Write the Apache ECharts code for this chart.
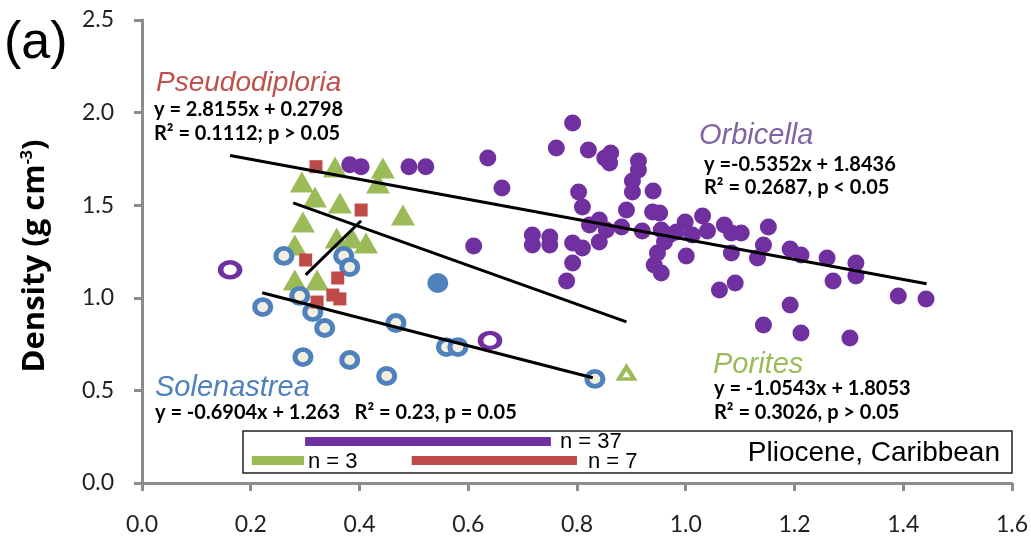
<!DOCTYPE html>
<html>
<head>
<meta charset="utf-8">
<script src="https://cdn.jsdelivr.net/npm/echarts@6.0.0/dist/echarts.min.js"></script>
<style>
html,body{margin:0;padding:0;background:#fff;}
#chart{width:1031px;height:538px;}
</style>
</head>
<body>
<div id="chart"></div>
<script>
// 数据：每个属一个数组 [x, density]
var orbicella = [
	[0.382,1.719],[0.403,1.708],[0.491,1.708],[0.522,1.708],[0.636,1.755],[0.662,1.593],
	[0.610,1.280],[0.718,1.339],[0.718,1.285],[0.750,1.328],[0.750,1.285],[0.762,1.809],
	[0.792,1.944],[0.821,1.798],[0.851,1.755],[0.862,1.782],[0.860,1.728],[0.913,1.739],
	[0.913,1.690],[0.902,1.631],[0.902,1.571],[0.940,1.577],[0.803,1.571],[0.810,1.490],
	[0.891,1.474],[0.939,1.463],[0.952,1.458],[0.841,1.420],[0.823,1.393],[0.854,1.366],
	[0.841,1.301],[0.882,1.382],[0.920,1.361],[0.955,1.366],[0.970,1.339],[0.983,1.355],
	[0.961,1.301],[0.948,1.242],[0.942,1.177],[0.955,1.134],[1.001,1.226],[0.999,1.409],
	[1.031,1.442],[1.040,1.361],[1.012,1.339],[0.792,1.296],[0.810,1.269],[0.792,1.188],
	[0.781,1.091],[1.071,1.393],[1.084,1.350],[1.102,1.350],[1.084,1.242],[1.152,1.382],
	[1.143,1.285],[1.132,1.215],[1.192,1.264],[1.212,1.231],[1.260,1.215],[1.313,1.188],
	[1.313,1.118],[1.271,1.091],[1.091,1.080],[1.062,1.042],[1.391,1.010],[1.442,0.994],
	[1.192,0.961],[1.143,0.853],[1.212,0.810],[1.302,0.783]
];
var orbicellaOpen = [[0.162,1.151],[0.640,0.770]];
var porites = [
	[0.294,1.625],[0.355,1.706],[0.443,1.701],[0.434,1.620],[0.318,1.544],[0.364,1.512],
	[0.296,1.409],[0.480,1.447],[0.281,1.285],[0.358,1.323],[0.386,1.323],[0.412,1.296],
	[0.281,1.096],[0.322,1.096]
];
var poritesOpen = [[0.891,0.594]];
var pseudodiploria = [
	[0.320,1.708],[0.403,1.474],[0.301,1.204],[0.360,1.107],[0.351,1.015],[0.364,0.994],[0.322,0.977]
];
var solenastrea = [
	[0.261,1.226],[0.371,1.226],[0.382,1.166],[0.290,1.010],[0.222,0.950],[0.314,0.923],
	[0.336,0.837],[0.467,0.864],[0.296,0.680],[0.382,0.664],[0.450,0.578],[0.560,0.734],
	[0.581,0.734],[0.833,0.562]
];
var solenastreaFilled = [[0.544,1.080]];

// 趋势线端点
var orbLine = [[0.162,1.768],[1.443,1.076]];
var porLine = [[0.278,1.513],[0.891,0.870]];
var solLine = [[0.221,1.027],[0.829,0.568]];
var pseLine = [[0.301,1.124],[0.403,1.416]];

// 框里的范围条 [x起, x止, y]
var rangePurple = [0.300, 0.752, 0.224];
var rangeGreen = [0.202, 0.298, 0.124];
var rangeRed = [0.496, 0.800, 0.124];

var PURPLE = '#7030A0', GREEN = '#9BBB59', BLUE = '#4F81BD', RED = '#BE4B48';

function trend(data) {
	return {
		type: 'line', data: data, symbol: 'none', z: 6, silent: true,
		lineStyle: {color: '#000', width: 3}
	};
}
function bar(r, color) {
	return {coords: [[r[0], r[2]], [r[1], r[2]]], lineStyle: {color: color, width: 9, opacity: 1}};
}
function label(text, x, y, size, color, italic, bold) {
	return {
		type: 'text', x: x, y: y, z: 10,
		style: {
			text: text, fill: color, fontSize: size,
			fontFamily: italic ? 'Liberation Sans' : 'Lato',
			fontStyle: italic ? 'italic' : 'normal',
			fontWeight: bold ? 'bold' : 'normal',
			align: 'left', verticalAlign: 'middle', textAlign: 'left', textVerticalAlign: 'middle'
		}
	};
}

var myChart = echarts.init(document.getElementById('chart'));

var option = {
	animation: false,
	grid: {left: 142, right: 18, top: 20, bottom: 55},
	xAxis: {
		type: 'value', min: 0, max: 1.6, interval: 0.2,
		axisLine: {lineStyle: {color: '#8c8c8c', width: 3}},
		axisTick: {length: 8, lineStyle: {color: '#8c8c8c', width: 3}},
		axisLabel: {
			margin: 30, fontSize: 23, fontFamily: 'Lato', color: '#222',
			formatter: function (v) { return v.toFixed(1); }
		},
		splitLine: {show: false}
	},
	yAxis: {
		type: 'value', min: 0, max: 2.5, interval: 0.5,
		axisLine: {show: true, lineStyle: {color: '#8c8c8c', width: 3}},
		axisTick: {show: true, length: 8, lineStyle: {color: '#8c8c8c', width: 3}},
		axisLabel: {
			margin: 28, fontSize: 23, fontFamily: 'Lato', color: '#222',
			formatter: function (v) { return v.toFixed(1); }
		},
		splitLine: {show: false}
	},
	graphic: [
		{
			type: 'rect', z: 0,
			shape: {x: 243, y: 431, width: 769, height: 42},
			style: {fill: '#fff', stroke: '#222', lineWidth: 1.5}
		},
		{
			type: 'text', x: 4, y: 44, z: 10,
			style: {text: '(a)', fontSize: 52, fontFamily: 'Liberation Sans', fill: '#000',
				align: 'left', verticalAlign: 'middle', textAlign: 'left', textVerticalAlign: 'middle'}
		},
		{
			type: 'text', x: 35, y: 256, rotation: Math.PI / 2, z: 10,
			style: {
				text: 'Density (g cm{sup|-3})', fontSize: 31, fontWeight: 'bold', fontFamily: 'Open Sans',
				fill: '#000', align: 'center', verticalAlign: 'middle', textAlign: 'center', textVerticalAlign: 'middle',
				rich: {sup: {fontSize: 16, fontWeight: 'bold', fontFamily: 'Open Sans', verticalAlign: 'top', lineHeight: 32}}
			}
		},
		label('Pseudodiploria', 156, 83, 28, '#C0504D', true, false),
		label('y = 2.8155x + 0.2798', 154, 110, 20, '#000', false, true),
		label('R² = 0.1112; p > 0.05', 154, 134, 20, '#000', false, true),
		label('Orbicella', 699, 136, 29, '#8064A2', true, false),
		label('y =-0.5352x + 1.8436', 704, 165, 20, '#000', false, true),
		label('R² = 0.2687, p < 0.05', 704, 188, 20, '#000', false, true),
		label('Porites', 713, 365, 29, GREEN, true, false),
		label('y = -1.0543x + 1.8053', 714, 389, 20, '#000', false, true),
		label('R² = 0.3026, p > 0.05', 714, 413, 20, '#000', false, true),
		label('Solenastrea', 155, 388, 29, BLUE, true, false),
		label('y = -0.6904x + 1.263   R² = 0.23, p = 0.05', 155, 413, 20, '#000', false, true),
		{
			type: 'text', x: 560, y: 442, z: 10,
			style: {text: 'n = 37', fontSize: 22, fontFamily: 'Liberation Sans', fill: '#000',
				align: 'left', verticalAlign: 'middle', textAlign: 'left', textVerticalAlign: 'middle'}
		},
		{
			type: 'text', x: 308, y: 462, z: 10,
			style: {text: 'n = 3', fontSize: 22, fontFamily: 'Liberation Sans', fill: '#000',
				align: 'left', verticalAlign: 'middle', textAlign: 'left', textVerticalAlign: 'middle'}
		},
		{
			type: 'text', x: 588, y: 462, z: 10,
			style: {text: 'n = 7', fontSize: 22, fontFamily: 'Liberation Sans', fill: '#000',
				align: 'left', verticalAlign: 'middle', textAlign: 'left', textVerticalAlign: 'middle'}
		},
		{
			type: 'text', x: 1000, y: 453, z: 10,
			style: {text: 'Pliocene, Caribbean', fontSize: 28, fontFamily: 'Liberation Sans', fill: '#000',
				align: 'right', verticalAlign: 'middle', textAlign: 'right', textVerticalAlign: 'middle'}
		}
	],
	series: [
		{
			name: 'Orbicella', type: 'scatter', data: orbicella, symbol: 'circle', symbolSize: 17, z: 2,
			itemStyle: {color: PURPLE, opacity: 1}
		},
		{
			name: 'Orbicella open', type: 'scatter', data: orbicellaOpen, symbol: 'circle', symbolSize: [19, 15], z: 2,
			itemStyle: {color: '#fff', borderColor: PURPLE, borderWidth: 5, opacity: 1}
		},
		{
			name: 'Porites', type: 'scatter', data: porites, symbol: 'triangle', symbolSize: [24, 21], z: 3,
			itemStyle: {color: GREEN, opacity: 1}
		},
		{
			name: 'Porites open', type: 'scatter', data: poritesOpen, symbol: 'triangle', symbolSize: [15, 12], z: 3,
			itemStyle: {color: '#fff', borderColor: GREEN, borderWidth: 4, opacity: 1}
		},
		{
			name: 'Solenastrea', type: 'scatter', data: solenastrea, symbol: 'circle', symbolSize: [16, 15], z: 4,
			itemStyle: {color: '#F2EFE0', borderColor: BLUE, borderWidth: 5, opacity: 1}
		},
		{
			name: 'Solenastrea filled', type: 'scatter', data: solenastreaFilled, symbol: 'circle', symbolSize: [21, 20], z: 4,
			itemStyle: {color: BLUE, opacity: 1}
		},
		{
			name: 'Pseudodiploria', type: 'scatter', data: pseudodiploria, symbol: 'rect', symbolSize: 13, z: 5,
			itemStyle: {color: RED, opacity: 1}
		},
		trend(orbLine),
		trend(porLine),
		trend(solLine),
		trend(pseLine),
		{
			type: 'lines', coordinateSystem: 'cartesian2d', z: 5, silent: true,
			data: [bar(rangePurple, PURPLE), bar(rangeGreen, GREEN), bar(rangeRed, RED)]
		}
	]
};
myChart.setOption(option);
</script>
</body>
</html>
